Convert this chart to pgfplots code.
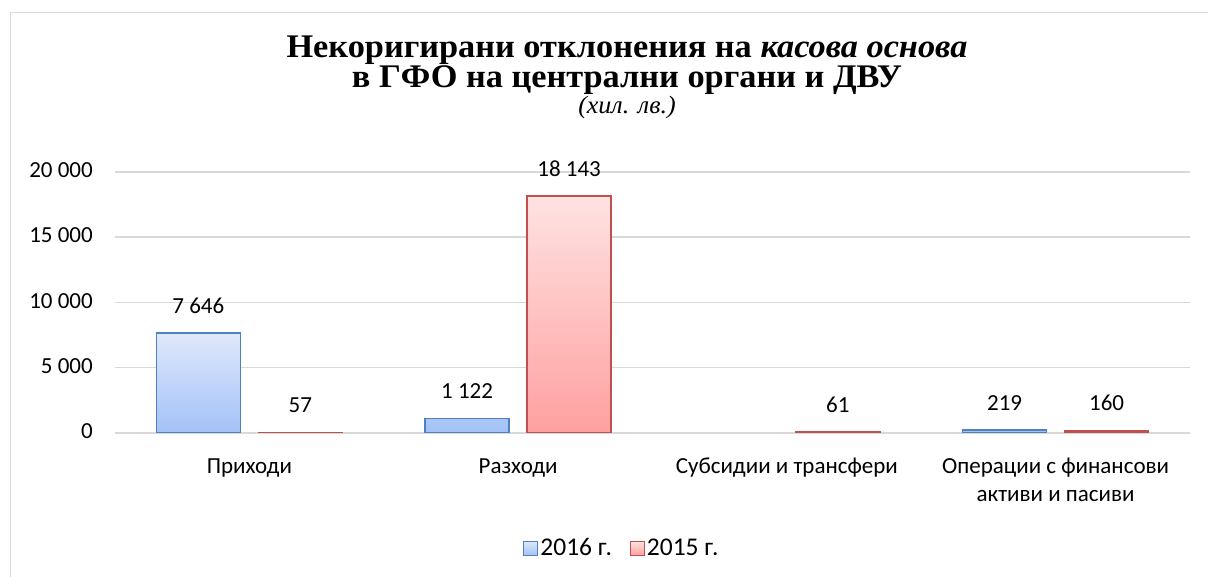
\documentclass[border=0pt]{standalone}
\usepackage{pgfplots}
\pgfplotsset{compat=1.18}
\usepackage{fontspec}
\setmainfont{Carlito}
\newfontfamily\titlefont[FakeStretch=1.04]{Liberation Serif}
\definecolor{gridc}{HTML}{D9D9D9}
\definecolor{bluebd}{HTML}{4F81BD}
\definecolor{bluetop}{HTML}{DFE8FB}
\definecolor{bluebot}{HTML}{A3C1F8}
\definecolor{redbd}{HTML}{C0504D}
\definecolor{redtop}{HTML}{FFE2E2}
\definecolor{redbot}{HTML}{FFA0A0}
\begin{document}
\begin{tikzpicture}[x=1pt,y=1pt]
\useasboundingbox (0,0) rectangle (1208,577);
\draw[gridc, line width=1.5pt] (10.5,0) -- (10.5,564.5) -- (1208,564.5);
\node[anchor=base, inner sep=0pt] at (627,519) {\titlefont\fontsize{33}{38}\selectfont\bfseries Некоригирани отклонения на \textit{касова основа}};
\node[anchor=base, inner sep=0pt] at (627,489) {\titlefont\fontsize{33}{38}\selectfont\bfseries в ГФО на централни органи и ДВУ};
\node[anchor=base, inner sep=0pt] at (627,463) {\titlefont\fontsize{25}{30}\selectfont\itshape (хил. лв.)};
\begin{axis}[
  at={(115pt,144pt)}, anchor=south west,
  scale only axis, width=1075pt, height=261pt,
  xmin=-0.5, xmax=3.5, ymin=0, ymax=20000,
  ybar=18pt, bar width=84pt,
  xtick={0,1,2,3},
  xticklabels={Приходи, Разходи, Субсидии и трансфери, {Операции с финансови\\активи и пасиви}},
  typeset ticklabels with strut,
  xticklabel style={font=\fontsize{23}{28}\selectfont, align=center, anchor=north, inner sep=0pt, yshift=-16pt},
  ytick={0,5000,10000,15000,20000},
  scaled y ticks=false,
  yticklabel style={font=\fontsize{23}{28}\selectfont, anchor=east, inner sep=0pt, xshift=-22pt},
  /pgf/number format/.cd, 1000 sep={\ }, assume math mode=true, /pgfplots/.cd,
  axis line style={draw=none},
  tick style={draw=none},
  ymajorgrids,
  major grid style={gridc, line width=1.5pt},
  nodes near coords,
  nodes near coords style={font=\fontsize{23}{28}\selectfont, inner sep=0pt, anchor=south, yshift=19pt, text=black},
  legend columns=2,
  legend style={draw=none, at={(axis description cs:0.4716,-0.441)}, anchor=center, font=\fontsize{25.5}{30}\selectfont,
    /tikz/every even column/.append style={column sep=16pt}},
]
\addplot[draw=bluebd, line width=1.5pt, top color=bluetop, bottom color=bluebot,
  legend image code/.code={\draw[draw=bluebd, line width=1pt, top color=bluetop, bottom color=bluebot] (0pt,-7pt) rectangle (14pt,7pt);}]
  coordinates {(0,7646) (1,1122) (3,219)};
\addplot[draw=redbd, line width=1.5pt, top color=redtop, bottom color=redbot,
  legend image code/.code={\draw[draw=redbd, line width=1pt, top color=redtop, bottom color=redbot] (0pt,-7pt) rectangle (14pt,7pt);}]
  coordinates {(0,57) (1,18143) (2,61) (3,160)};
\legend{2016 г., 2015 г.}
\end{axis}
\end{tikzpicture}
\end{document}
